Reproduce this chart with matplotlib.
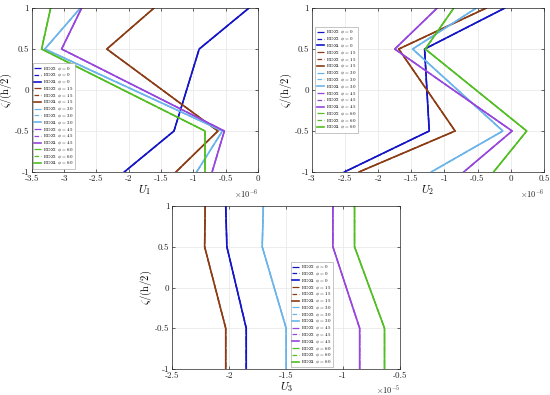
import matplotlib
matplotlib.use("Agg")
import matplotlib.pyplot as plt
from matplotlib.ticker import FuncFormatter

plt.rcParams['font.family'] = ['cmr10', 'DejaVu Serif']
plt.rcParams['mathtext.fontset'] = 'cm'
plt.rcParams['axes.unicode_minus'] = False
plt.rcParams['axes.formatter.use_mathtext'] = True

zeta = [1, 0.5, -0.5, -1]
phis = [0, 15, 30, 45, 60]
models = ["EDZ2", "EDZ3", "EDZ4"]
colors = ['#1414c8', '#8c3c14', '#6ab4ea', '#9646dc', '#52be24']
styles = ['-.', '--', '-']
widths = [0.9, 0.9, 1.2]

# U1 in units of 1e-6
U1_phi0 = [-0.14, -0.91, -1.30, -2.07]
U1_phi15 = [-1.61, -2.34, -0.62, -1.27]
U1_phi30 = [-2.75, -3.30, -0.55, -0.95]
U1_phi45 = [-2.73, -3.04, -0.52, -0.71]
U1_phi60 = [-3.21, -3.35, -0.82, -0.82]

# U2 in units of 1e-6
U2_phi0 = [-0.09, -1.30, -1.23, -2.51]
U2_phi15 = [-0.37, -1.69, -0.84, -2.29]
U2_phi30 = [-0.52, -1.48, -0.12, -1.20]
U2_phi45 = [-1.11, -1.75, 0.02, -0.71]
U2_phi60 = [-0.86, -1.29, 0.24, -0.26]

# U3 in units of 1e-5
U3_phi0 = [-2.03, -2.02, -1.85, -1.85]
U3_phi15 = [-2.21, -2.215, -2.03, -2.03]
U3_phi30 = [-1.70, -1.71, -1.50, -1.50]
U3_phi45 = [-1.09, -1.09, -0.855, -0.855]
U3_phi60 = [-0.90, -0.90, -0.637, -0.637]

U1 = [U1_phi0, U1_phi15, U1_phi30, U1_phi45, U1_phi60]
U2 = [U2_phi0, U2_phi15, U2_phi30, U2_phi45, U2_phi60]
U3 = [U3_phi0, U3_phi15, U3_phi30, U3_phi45, U3_phi60]

fig = plt.figure(figsize=(5.5, 3.95), dpi=100)

panels = [
    (U1, [0.058, 0.5646, 0.411, 0.415], (-3.5, 0), 0.5, '$U_1$', '$\\times10^{-6}$',
     dict(loc='lower left', bbox_to_anchor=(0.003, 0.02))),
    (U2, [0.567, 0.5646, 0.422, 0.415], (-3, 0.5), 0.5, '$U_2$', '$\\times10^{-6}$',
     dict(loc='lower left', bbox_to_anchor=(0.015, 0.24))),
    (U3, [0.313, 0.0658, 0.4145, 0.4127], (-2.5, -0.5), 0.5, '$U_3$', '$\\times10^{-5}$',
     dict(loc='lower left', bbox_to_anchor=(0.52, 0.01))),
]

for data, pos, xlim, step, xlabel, offs, legkw in panels:
    ax = fig.add_axes(pos)
    for ci, (phi, vals) in enumerate(zip(phis, data)):
        for mi, m in enumerate(models):
            ax.plot(vals, zeta, linestyle=styles[mi], color=colors[ci], lw=widths[mi],
                    label=f"{m} $\\phi$ = {phi}")
    ax.set_xlim(*xlim)
    ax.set_ylim(-1, 1)
    n = int(round((xlim[1] - xlim[0]) / step))
    ax.set_xticks([xlim[0] + i * step for i in range(n + 1)])
    ax.set_yticks([-1, -0.5, 0, 0.5, 1])
    fmt = FuncFormatter(lambda v, p: f"{v:g}")
    ax.xaxis.set_major_formatter(fmt)
    ax.yaxis.set_major_formatter(fmt)
    ax.tick_params(direction='in', top=True, right=True, labelsize=6.5, length=2.5,
                   width=0.5, pad=2, colors='#262626')
    ax.grid(True, color='#e6e6e6', lw=0.5)
    for s in ax.spines.values():
        s.set_linewidth(0.5)
        s.set_color('#262626')
    ax.set_xlabel(xlabel, fontsize=8, labelpad=0)
    ax.set_ylabel('$\\zeta/(\\mathrm{h}/2)$', fontsize=7.5, labelpad=0.5)
    ax.text(1.0, -0.09, offs, transform=ax.transAxes, ha='right', va='top', fontsize=6,
            color='#262626')
    leg = ax.legend(fontsize=3.5, frameon=True, fancybox=False, edgecolor='#999999',
                    framealpha=1, handlelength=1.5, handleheight=0.5, handletextpad=0.4,
                    borderpad=0.25, labelspacing=-0.25, borderaxespad=0, **legkw)
    leg.get_frame().set_linewidth(0.4)

fig.savefig('out.png', dpi=100)
